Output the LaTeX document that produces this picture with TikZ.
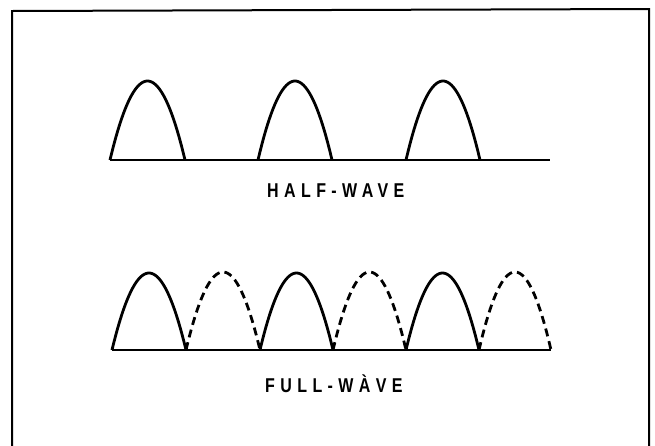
\documentclass[tikz,border=0pt]{standalone}
\usepackage{fontspec}
\newfontfamily\letterfont[LetterSpace=27, FakeStretch=0.8]{Liberation Sans}
\begin{document}
\begin{tikzpicture}[
  x=1pt, y=-1pt,
  font=\letterfont\bfseries\fontsize{20}{24}\selectfont,
  frameline/.style={line width=2pt},
  axisline/.style={line width=2.8pt},
  arch/.style={line width=2.8pt, line join=round},
  dasharch/.style={arch, dash pattern=on 8pt off 5pt},
  caption/.style={anchor=west, inner sep=0pt}
]
  \useasboundingbox (0,0) rectangle (655,445);

  % frame, open at the bottom
  \draw[frameline] (12,450) -- (12,11) -- (649,9) -- (649,450);

  % half-wave
  \draw[axisline] (110,160) -- (550,160);
  \foreach \s/\e in {110/185, 258/332, 406/480}
    \draw[arch] plot[domain=0:1, samples=40] ({\s+(\e-\s)*\x}, {160-79*4*\x*(1-\x)});
  \node[caption] (halflabel) at (267,191) {HALF-WAVE};

  % full-wave
  \draw[axisline] (112,350) -- (551,350);
  \foreach \s/\e in {112/186, 260/333, 406/479}
    \draw[arch] plot[domain=0:1, samples=40] ({\s+(\e-\s)*\x}, {350-77*4*\x*(1-\x)});
  \foreach \s/\e in {186/260, 333/406, 479/551}
    \draw[dasharch] plot[domain=0:1, samples=40] ({\s+(\e-\s)*\x}, {350-78*4*\x*(1-\x)});
  \node[caption] (fulllabel) at (265,384) {FULL-WÀVE};
\end{tikzpicture}
\end{document}
